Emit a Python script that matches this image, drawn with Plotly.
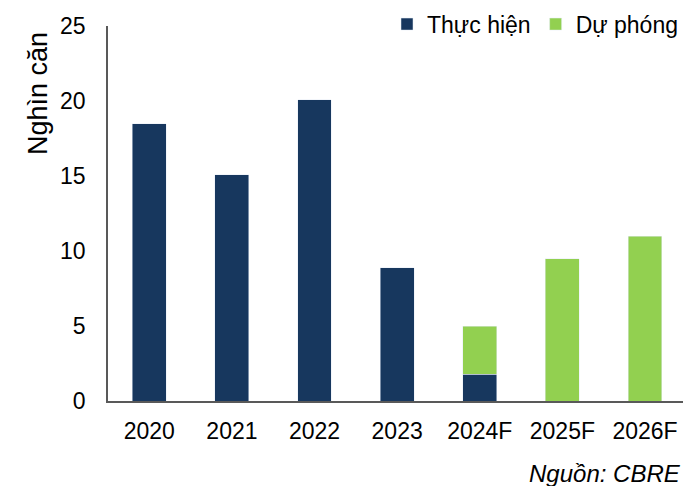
import plotly.graph_objects as go

# Thousands of units per year; 2024F split into realised and forecast parts
years = ["2020", "2021", "2022", "2023", "2024F", "2025F", "2026F"]
actual = [18.5, 15.1, 20.1, 8.9, 1.8, None, None]
forecast = [None, None, None, None, 3.2, 9.5, 11.0]
y_ticks = [0, 5, 10, 15, 20, 25]

NAVY = "#17375E"
GREEN = "#92D050"
AXIS = "#595959"
FONT = "Liberation Sans, Arial, sans-serif"

fig = go.Figure()
fig.add_trace(go.Bar(x=years, y=actual, name="Thực hiện", marker_color=NAVY))
fig.add_trace(go.Bar(x=years, y=forecast, name="Dự phóng", marker_color=GREEN))

fig.update_layout(
    width=683,
    height=486,
    barmode="stack",
    bargap=0.59,
    plot_bgcolor="white",
    paper_bgcolor="white",
    margin=dict(l=108, r=0, t=26, b=85, autoexpand=False),
    font=dict(family=FONT, size=23, color="black"),
    showlegend=True,
    legend=dict(
        orientation="h",
        x=1.0,
        xanchor="right",
        y=1.005,
        yanchor="middle",
        font=dict(size=23),
        itemwidth=30,
        traceorder="normal",
        bgcolor="rgba(0,0,0,0)",
    ),
    xaxis=dict(
        type="category",
        range=[-0.5, 6.46],
        showline=True,
        linecolor=AXIS,
        linewidth=1.5,
        ticks="",
        ticklabelstandoff=9,
        showgrid=False,
        tickfont=dict(size=23),
    ),
    yaxis=dict(
        range=[0, 25],
        tickvals=y_ticks,
        showline=True,
        linecolor=AXIS,
        linewidth=1.5,
        ticks="",
        showgrid=False,
        zeroline=False,
        ticklabelstandoff=16,
        tickfont=dict(size=23),
    ),
    annotations=[
        # vertical axis title, placed near the top of the axis
        dict(
            text="Nghìn căn",
            textangle=-90,
            xref="paper",
            yref="paper",
            x=-0.1217,
            xanchor="center",
            y=0.8187,
            yanchor="middle",
            showarrow=False,
            font=dict(size=27),
        ),
        dict(
            text="<i>Nguồn: CBRE</i>",
            xref="paper",
            yref="paper",
            x=1.0,
            xanchor="right",
            y=-0.193,
            yanchor="middle",
            showarrow=False,
            font=dict(size=24),
        ),
    ],
)

fig.write_html("out.html")
